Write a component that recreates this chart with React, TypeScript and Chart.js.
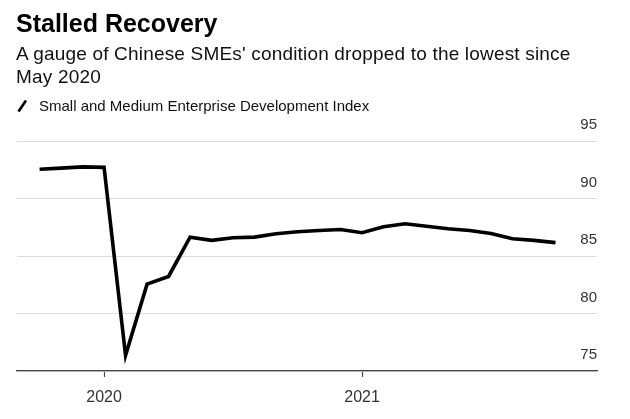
import React, { useEffect, useRef } from "react";
import { Chart, registerables } from "chart.js";

Chart.register(...registerables);

const TITLE = "Stalled Recovery";
const SUBTITLE = "A gauge of Chinese SMEs' condition dropped to the lowest since May 2020";
const SERIES_LABEL = "Small and Medium Enterprise Development Index";

const months = [
  "2019-10", "2019-11", "2019-12",
  "2020-01", "2020-02", "2020-03", "2020-04", "2020-05", "2020-06",
  "2020-07", "2020-08", "2020-09", "2020-10", "2020-11", "2020-12",
  "2021-01", "2021-02", "2021-03", "2021-04", "2021-05", "2021-06",
  "2021-07", "2021-08", "2021-09", "2021-10",
];

const smedi = [
  92.55, 92.64, 92.75,
  92.71, 76.36, 82.55, 83.22, 86.64, 86.36,
  86.59, 86.64, 86.94, 87.11, 87.22, 87.31,
  87.02, 87.54, 87.8, 87.59, 87.37, 87.22,
  86.96, 86.5, 86.36, 86.16,
];

const yearTickLabels = ["2020", "2021"];
const yTicks = [75, 80, 85, 90, 95];

const monthIndex = (m: string) => {
  const [y, mo] = m.split("-").map(Number);
  return (y - 2020) * 12 + (mo - 1);
};

export default function App() {
  const ref = useRef<HTMLCanvasElement | null>(null);

  useEffect(() => {
    if (!ref.current) return;
    const font = "'Liberation Sans', Arial, Helvetica, sans-serif";
    const points = months.map((m, i) => ({ x: monthIndex(m), y: smedi[i] }));
    const yearTickValues = yearTickLabels.map((l) => monthIndex(l + "-01"));
    const chart = new Chart(ref.current, {
      type: "line",
      data: {
        datasets: [
          {
            label: SERIES_LABEL,
            data: points,
            borderColor: "#000000",
            borderWidth: 3.6,
            pointRadius: 0,
            tension: 0,
            fill: false,
          },
        ],
      },
      options: {
        animation: false,
        responsive: false,
        maintainAspectRatio: false,
        layout: { padding: { top: 141, left: 17, right: 33, bottom: 0 } },
        plugins: { legend: { display: false }, tooltip: { enabled: false } },
        scales: {
          x: {
            type: "linear",
            min: -4.05,
            max: 22.93,
            afterBuildTicks: (scale: any) => {
              scale.ticks = yearTickValues.map((v) => ({ value: v }));
            },
            afterFit: (scale: any) => {
              scale.height = 48;
            },
            ticks: {
              autoSkip: false,
              maxRotation: 0,
              padding: 11,
              color: "#333333",
              font: { family: font, size: 16 },
              callback: (v: any) => {
                const i = yearTickValues.indexOf(Number(v));
                return i >= 0 ? yearTickLabels[i] : "";
              },
            },
            grid: {
              drawOnChartArea: false,
              drawTicks: true,
              tickLength: 6,
              tickColor: "#444444",
              tickWidth: 1.2,
            },
            border: { display: true, color: "#444444", width: 1.3 },
          },
          y: {
            position: "right",
            min: 75,
            max: 95,
            afterBuildTicks: (scale: any) => {
              scale.ticks = yTicks.map((v) => ({ value: v }));
            },
            afterFit: (scale: any) => {
              scale.width = 0;
            },
            ticks: {
              mirror: true,
              padding: 0,
              labelOffset: -16,
              color: "#333333",
              font: { family: font, size: 15 },
            },
            grid: {
              color: "#dcdcdc",
              lineWidth: 1,
              drawTicks: false,
            },
            border: { display: false },
          },
        },
      },
    });
    return () => chart.destroy();
  }, []);

  const font = "'Liberation Sans', Arial, Helvetica, sans-serif";
  return (
    <div style={{ position: "absolute", left: 0, top: 0, width: 630, height: 419, background: "#fff", fontFamily: font, color: "#111" }}>
      <canvas ref={ref} width={630} height={419} style={{ position: "absolute", left: 0, top: 0, width: 630, height: 419 }} />
      <div style={{ position: "absolute", left: 16, top: 11, fontSize: 25, lineHeight: "25px", fontWeight: 700, whiteSpace: "nowrap", color: "#000" }}>
        {TITLE}
      </div>
      <div style={{ position: "absolute", left: 16, top: 42, width: 575, fontSize: 19, lineHeight: "23px", letterSpacing: "0.18px", color: "#111" }}>
        {SUBTITLE}
      </div>
      <div style={{ position: "absolute", left: 0, top: 98, height: 16, width: 500 }}>
        <svg width={30} height={16} style={{ position: "absolute", left: 0, top: 0 }}>
          <line x1={18.5} y1={13.5} x2={26} y2={2.5} stroke="#000" strokeWidth={2.6} />
        </svg>
        <div style={{ position: "absolute", left: 39, top: 0, fontSize: 15, lineHeight: "15px", whiteSpace: "nowrap", color: "#111" }}>
          {SERIES_LABEL}
        </div>
      </div>
    </div>
  );
}
